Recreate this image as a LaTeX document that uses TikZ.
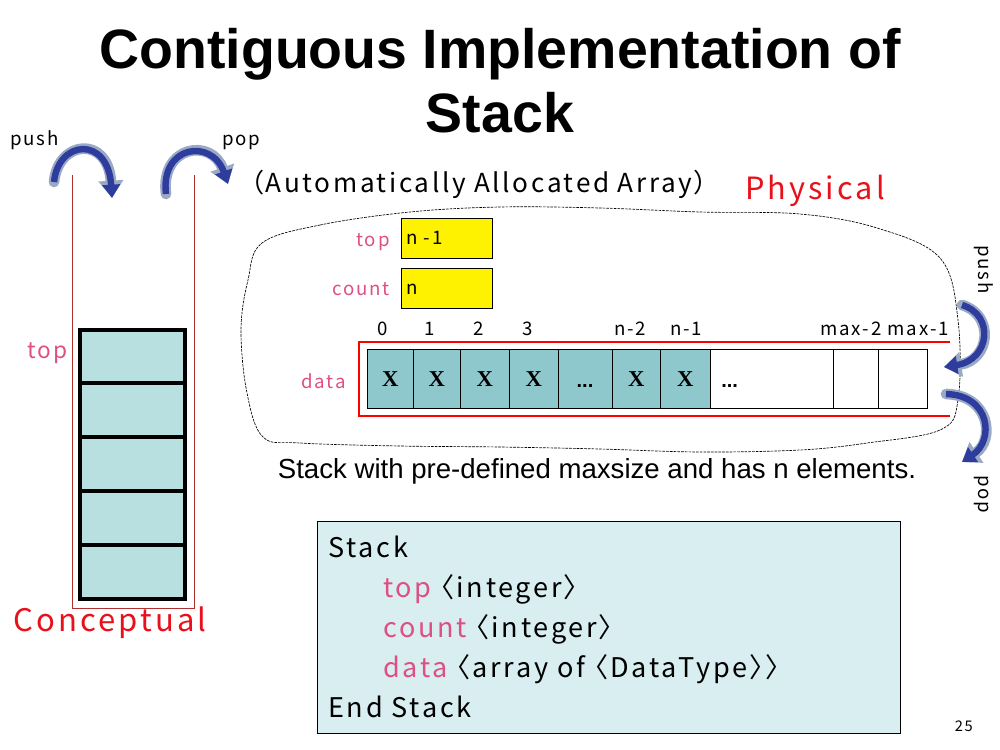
\documentclass[tikz,border=0pt]{standalone}
\usepackage{fontspec}
\setmainfont{Liberation Sans}
\newfontfamily\jp[LetterSpace=10,RawFeature=+palt]{Noto Sans CJK JP}
\newfontfamily\serifx{Liberation Serif}
\usetikzlibrary{arrows.meta,calc}
\definecolor{labelpink}{HTML}{DE4F85}
\definecolor{headred}{HTML}{E8101A}
\definecolor{wallred}{HTML}{B03030}
\definecolor{cellteal}{HTML}{8EC8CC}
\definecolor{stackteal}{HTML}{B9E0E0}
\definecolor{codefill}{HTML}{D8EEF0}
\definecolor{arrowblue}{HTML}{2E3C9E}
\definecolor{arrowrim}{HTML}{9AAAC4}
\tikzset{
  lbl/.style={inner sep=0pt, font=\jp\fontsize{14}{15}\selectfont},
  pinklbl/.style={lbl, text=labelpink},
  stackcell/.style={draw=black, line width=2.4pt, fill=stackteal},
  arrcell/.style={draw=black, line width=0.6pt, fill=cellteal, minimum height=44.25pt, inner sep=0pt, anchor=north west},
  freecell/.style={arrcell, fill=white},
  yelbox/.style={draw=black, line width=0.6pt, fill=yellow, minimum width=68.25pt, minimum height=30pt, inner sep=0pt, anchor=north west},
  xmark/.style={font=\serifx\bfseries\fontsize{17}{18}\selectfont},
  dots/.style={inner sep=0pt, font=\bfseries\fontsize{15}{16}\selectfont},
  arcrim/.style={line width=8pt, arrowrim, line cap=round, -{Triangle[length=13pt,width=18pt]}},
  arccore/.style={line width=4.8pt, arrowblue, -{Triangle[length=10pt,width=13pt]}},
}
\begin{document}
\begin{tikzpicture}[x=0.75pt,y=-0.75pt]
\useasboundingbox (0,0) rectangle (1000,750);

% heading
\node[inner sep=0pt, anchor=base, font=\bfseries\fontsize{41.6}{44}\selectfont] (title1) at (500,68) {Contiguous Implementation of};
\node[inner sep=0pt, anchor=base, font=\bfseries\fontsize{41.6}{44}\selectfont] (title2) at (500,132) {Stack};

% conceptual stack
\node[lbl, anchor=base west] (cpush) at (10,145) {push};
\node[lbl, anchor=base west] (cpop) at (222,145) {pop};
\draw[wallred, line width=0.6pt] (72,175) -- (72,608) -- (194,608) -- (194,175);
\foreach \i/\y in {1/330,2/383,3/437,4/491,5/545}{
  \draw[stackcell] (80,\y) rectangle +(105,54);
}
\node[pinklbl, anchor=base east, font=\jp\fontsize{17}{18}\selectfont] (ctop) at (68,358) {top};
\node[inner sep=0pt, anchor=base west, text=headred, font=\jp\fontsize{23.3}{25}\selectfont] (concept) at (13,631) {Conceptual};

% push / pop arcs over the conceptual stack
\coordinate (pushA) at (54,182);
\coordinate (pushB) at (112,198);
\coordinate (popA) at (166,194);
\coordinate (popB) at (228,184);
\foreach \s in {arcrim,arccore}{
  \draw[\s] (pushA) .. controls (58,140) and (108,135) .. (pushB);
  \draw[\s] (popA) .. controls (160,145) and (212,138) .. (popB);
}

% physical layout
\node[inner sep=0pt, anchor=base west, font=\jp\fontsize{19.6}{21}\selectfont] (alloc) at (250,192) {（Automatically Allocated Array）};
\node[inner sep=0pt, anchor=base west, text=headred, font=\jp\fontsize{23}{25}\selectfont] (phys) at (745,199) {Physical};

\draw[line width=0.5pt, dash pattern=on 2pt off 0.8pt] plot[smooth cycle, tension=0.6] coordinates {
  (262,243) (320,225) (410,212) (500,207) (600,208) (700,212) (800,214)
  (877,228) (940,258) (958,320) (958,400) (940,430) (867,443) (800,450)
  (700,452) (600,449) (500,447) (400,446) (300,443) (263,437) (247,393) (241,330) (248,280)};

\node[yelbox] (topbox) at (401,218) {};
\node[yelbox] (countbox) at (401,268) {};
\node[lbl, anchor=base west] at ($(topbox.west)+(5,6)$) {n -1};
\node[lbl, anchor=base west] at ($(countbox.west)+(5,6)$) {n};
\node[pinklbl, anchor=base east] (toplbl) at (390,246) {top};
\node[pinklbl, anchor=base east] (countlbl) at (390,295) {count};
\node[pinklbl, anchor=base east] (datalbl) at (346,388) {data};

% data array
\draw[red, line width=1.5pt] (950,342) -- (359,342) -- (359,416) -- (950,416);
\node[arrcell, minimum width=34.5pt] (c0) at (367,349) {};
\node[arrcell, minimum width=35.25pt] (c1) at (413,349) {};
\node[arrcell, minimum width=36.75pt] (c2) at (460,349) {};
\node[arrcell, minimum width=36.75pt] (c3) at (509,349) {};
\node[arrcell, minimum width=40.5pt] (c4) at (558,349) {};
\node[arrcell, minimum width=36pt] (c5) at (612,349) {};
\node[arrcell, minimum width=37.5pt] (c6) at (660,349) {};
\node[freecell, minimum width=92.25pt] (c7) at (710,349) {};
\node[freecell, minimum width=33.75pt] (c8) at (833,349) {};
\node[freecell, minimum width=36.75pt] (c9) at (878,349) {};
\foreach \c in {c0,c1,c2,c3,c5,c6}{ \node[xmark] at (\c.center) {X}; }
\node[dots, anchor=base] at (585,387) {...};
\node[dots, anchor=base west] at (721,387) {...};

\foreach \x/\t in {383/0,430/1,479/2,528/3,630/n-2,686/n-1}{
  \node[lbl, anchor=base] at (\x,335) {\t};
}
\node[lbl, anchor=base east] (maxlbl) at (949,335) {max-2 max-1};

% push / pop at the open end
\node[lbl, rotate=-90, anchor=base west] (ppush) at (978,245) {push};
\node[lbl, rotate=-90, anchor=base west] (ppop) at (978,475) {pop};
\coordinate (rpushA) at (962,305);
\coordinate (rpushB) at (944,367);
\coordinate (rpopA) at (946,394);
\coordinate (rpopB) at (962,462);
\foreach \s in {arcrim,arccore}{
  \draw[\s] (rpushA) .. controls (995,315) and (990,360) .. (rpushB);
  \draw[\s] (rpopA) .. controls (990,395) and (995,440) .. (rpopB);
}

\node[inner sep=0pt, anchor=base, font=\fontsize{20.7}{22}\selectfont] (caption) at (597,478) {Stack with pre-defined maxsize and has n elements.};

% record declaration
\node[draw=black, line width=0.6pt, fill=codefill, minimum width=437.25pt, minimum height=159pt, anchor=north west, inner sep=0pt] (code) at (317,521) {};
\begin{scope}[every node/.style={inner sep=0pt, anchor=base west, font=\jp\fontsize{20.3}{22}\selectfont}]
  \node (l1) at (328,557) {Stack};
  \node (l2) at (383,597) {\textcolor{labelpink}{top} 〈integer〉};
  \node (l3) at (383,637) {\textcolor{labelpink}{count} 〈integer〉};
  \node (l4) at (383,677) {\textcolor{labelpink}{data} 〈array of 〈DataType〉〉};
  \node (l5) at (328,717) {End Stack};
\end{scope}

\node[inner sep=0pt, anchor=base east, font=\jp\fontsize{11}{12}\selectfont] (pageno) at (973,731) {25};
\end{tikzpicture}
\end{document}
